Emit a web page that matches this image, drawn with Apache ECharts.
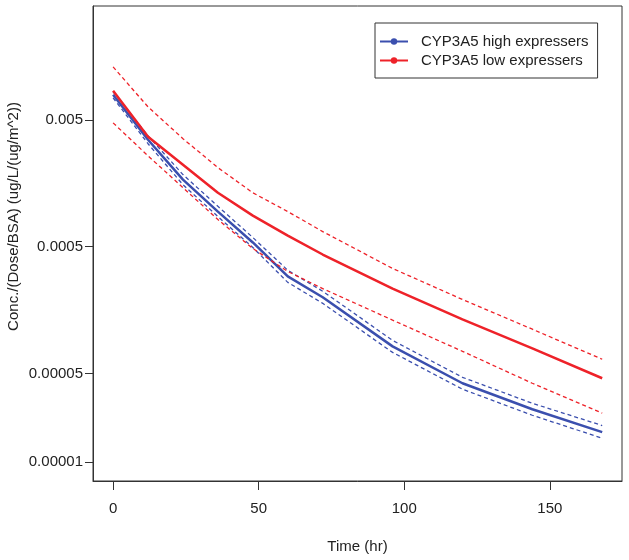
<!DOCTYPE html>
<html>
<head>
<meta charset="utf-8">
<script src="https://cdn.jsdelivr.net/npm/echarts@6/dist/echarts.min.js"></script>
<style>
  html, body { margin: 0; padding: 0; background: #fff; }
  #chart { width: 629px; height: 560px; }
</style>
</head>
<body>
<div id="chart"></div>
<script>
// sampling times (hr)
const times = [0, 12, 24, 36, 48, 60, 72, 96, 120, 144, 168];

// CYP3A5 high expressers: mean and CI
const highMean  = [0.00787, 0.00348, 0.00169, 0.000946, 0.00054, 0.000292, 0.0002, 0.000082, 0.000042, 0.0000262, 0.0000173];
const highUpper = [0.00831, 0.00374, 0.00185, 0.00104, 0.000591, 0.000326, 0.000223, 0.0000914, 0.0000468, 0.0000292, 0.0000195];
const highLower = [0.00745, 0.00324, 0.00154, 0.000864, 0.000493, 0.000262, 0.000179, 0.0000735, 0.0000377, 0.0000235, 0.0000155];

// CYP3A5 low expressers: mean and CI
const lowMean  = [0.00845, 0.00367, 0.00221, 0.00133, 0.000879, 0.000612, 0.000434, 0.000234, 0.000134, 0.0000792, 0.000046];
const lowUpper = [0.01306, 0.00632, 0.00355, 0.0021, 0.00133, 0.000946, 0.000658, 0.000337, 0.000192, 0.000112, 0.0000649];
const lowLower = [0.00473, 0.0026, 0.00146, 0.000818, 0.000484, 0.000319, 0.000234, 0.000132, 0.000075, 0.000042, 0.0000244];

const xTicks = [0, 50, 100, 150];
const yTickValues = [0.005, 0.0005, 0.00005, 0.00001];
const yTickLabels = ["0.005", "0.0005", "0.00005", "0.00001"];

const BLUE = "#3b4fae";
const RED = "#ee2229";
const FONT = "Liberation Sans";

const pairs = (vals) => times.map((t, i) => [t, vals[i]]);

function solid(name, vals, color) {
  return {
    name, type: "line", data: pairs(vals),
    symbol: "circle", showSymbol: false, silent: true,
    lineStyle: { color, width: 2.5 },
    itemStyle: { color },
  };
}
function dashed(name, vals, color) {
  return {
    name, type: "line", data: pairs(vals),
    symbol: "none", silent: true,
    lineStyle: { color, width: 1.3, type: [4, 3] },
  };
}

const chart = echarts.init(document.getElementById("chart"), null, { renderer: "canvas" });
chart.setOption({
  animation: false,
  backgroundColor: "#fff",
  textStyle: { fontFamily: FONT },
  grid: {
    left: 93, right: 7, top: 6, bottom: 79,
    outerBoundsMode: "none",
    show: true, borderColor: "#333", borderWidth: 1,
  },
  legend: {
    data: ["CYP3A5 high expressers", "CYP3A5 low expressers"],
    orient: "vertical",
    left: 375, top: 23,
    padding: [11, 9, 10, 4],
    itemWidth: 28, itemHeight: 8, itemGap: 4,
    borderColor: "#333", borderWidth: 1,
    textStyle: { fontSize: 15, color: "#222", fontFamily: FONT, padding: [0, 0, 0, 8] },
  },
  xAxis: {
    type: "value", min: -6.9, max: 174.8,
    name: "Time (hr)", nameLocation: "middle", nameGap: 58, nameMoveOverlap: false,
    nameTextStyle: { fontSize: 15, color: "#222", fontFamily: FONT },
    axisLine: { show: true, onZero: false, lineStyle: { color: "#333" } },
    axisTick: { show: true, inside: false, length: 9, customValues: xTicks, lineStyle: { color: "#333" } },
    axisLabel: { customValues: xTicks, margin: 20, fontSize: 15, color: "#222", fontFamily: FONT },
    splitLine: { show: false },
  },
  yAxis: {
    type: "log", logBase: 10, min: 0.00000713, max: 0.0394,
    name: "Conc./(Dose/BSA) (ug/L/(ug/m^2))", nameLocation: "middle", nameGap: 72, nameMoveOverlap: false,
    nameTextStyle: { fontSize: 15, color: "#222", fontFamily: FONT, padding: [0, 0, 0, 54] },
    axisLine: { show: true, onZero: false, lineStyle: { color: "#333" } },
    axisTick: { show: true, inside: false, length: 8, customValues: yTickValues, lineStyle: { color: "#333" } },
    axisLabel: {
      customValues: yTickValues, margin: 10, fontSize: 15, color: "#222", fontFamily: FONT,
      formatter: (v) => {
        const i = yTickValues.findIndex((t) => Math.abs(t - v) / t < 1e-6);
        return i >= 0 ? yTickLabels[i] : "";
      },
    },
    splitLine: { show: false },
  },
  series: [
    dashed("high upper", highUpper, BLUE),
    dashed("high lower", highLower, BLUE),
    solid("CYP3A5 high expressers", highMean, BLUE),
    dashed("low upper", lowUpper, RED),
    dashed("low lower", lowLower, RED),
    solid("CYP3A5 low expressers", lowMean, RED),
  ],
});
</script>
</body>
</html>
